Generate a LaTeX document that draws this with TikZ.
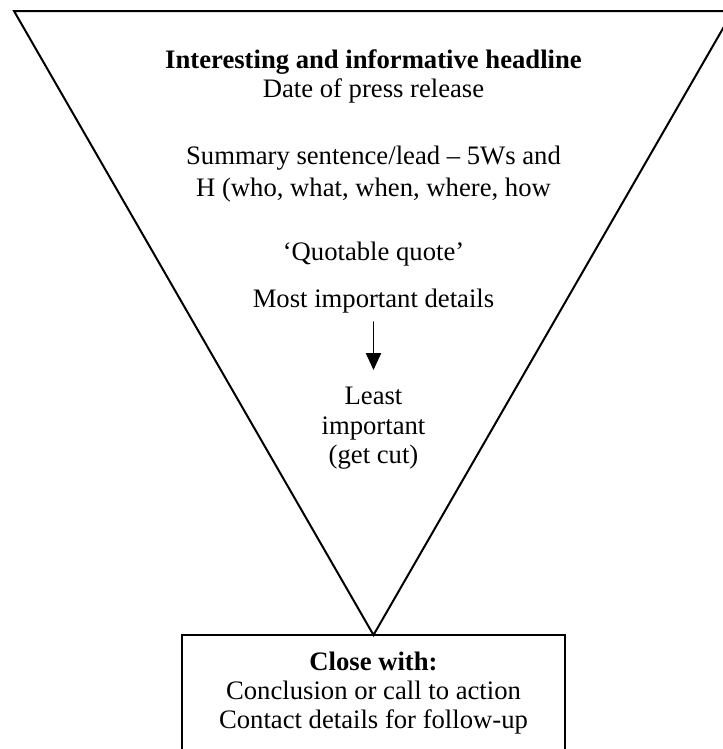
\documentclass[tikz,border=0pt]{standalone}
\usepackage{fontspec}
\setmainfont{Liberation Serif}
\usetikzlibrary{arrows.meta}

\begin{document}
\begin{tikzpicture}[x=0.45pt, y=-0.45pt, line cap=round,
  outline/.style={line width=0.9pt},
  txt/.style={anchor=base, inner sep=0pt, font=\fontsize{12pt}{13.6pt}\selectfont},
  flow/.style={line width=0.75pt, -{Triangle[length=7.6pt, width=6.8pt]}}]

%% Cadre de la page.

\useasboundingbox (0,0) rectangle (723,749);
\clip (0,0) rectangle (723,749);

%% Le triangle inverse et la boite du bas.

\coordinate (tl) at (14,11);
\coordinate (tr) at (733,11);
\coordinate (apex) at (373.5,635);
\draw[outline, line join=miter] (tl) -- (tr) -- (apex) -- cycle ;
\draw[outline] (182,635) rectangle (565,770) ;

%% Textes dans le triangle.

\node[txt, font=\fontsize{12pt}{13.6pt}\selectfont\bfseries] (head) at (373.5,68) {Interesting and informative headline};
\node[txt] (date) at (373.5,97) {Date of press release};
\node[txt] (sum1) at (373.5,164) {Summary sentence/lead -- 5Ws and};
\node[txt] (sum2) at (373.5,196) {H (who, what, when, where, how};
\node[txt] (quote) at (373.5,260) {`Quotable quote'};
\node[txt] (most) at (373.5,307) {Most important details};
\node[txt] (least1) at (373.5,404) {Least};
\node[txt] (least2) at (373.5,434) {important};
\node[txt] (least3) at (373.5,463) {(get cut)};

%% La fleche.

\coordinate (arrtop) at (373.5,322);
\coordinate (arrtip) at (373.5,370);
\draw[flow] (arrtop) -- (arrtip) ;

%% Texte de la boite.

\node[txt, font=\fontsize{12pt}{13.6pt}\selectfont\bfseries] (close1) at (373.5,670) {Close with:};
\node[txt] (close2) at (373.5,699) {Conclusion or call to action};
\node[txt] (close3) at (373.5,728) {Contact details for follow-up};

\end{tikzpicture}
\end{document}
